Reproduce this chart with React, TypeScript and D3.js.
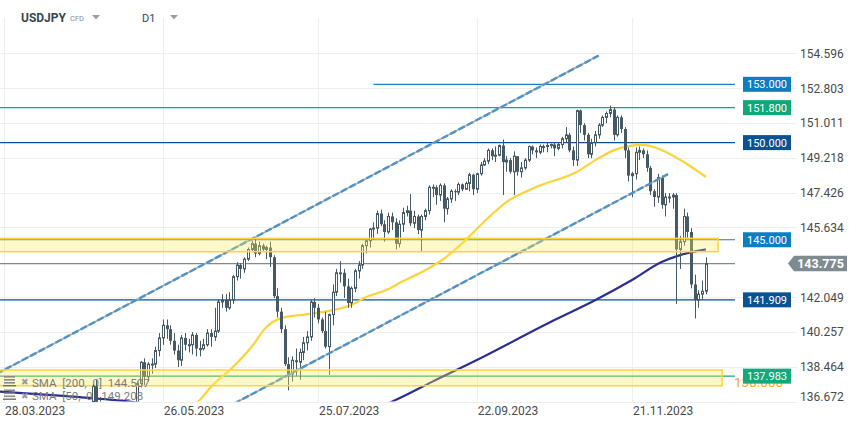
import * as d3 from 'd3';

const W = 859;
const H = 427;

const SYMBOL = 'USDJPY';
const SYMBOL_TYPE = 'CFD';
const TIMEFRAME = 'D1';

// x positions are counted in trading days since 28.03.2023
const FIRST_CANDLE_BAR = 23; // 28.04.2023

// daily candles [open, high, low, close], 28.04.2023 .. 19.12.2023
const CANDLES: [number, number, number, number][] = [
  [133.9, 136.56, 133.6, 136.3],
  [136.3, 137.55, 136.2, 137.45],
  [137.45, 137.77, 136.3, 136.5],
  [136.5, 136.9, 134.6, 134.7],
  [134.7, 134.9, 133.5, 134.25],
  [134.25, 135.1, 133.9, 134.8],
  [134.8, 135.3, 134.6, 135.1],
  [135.1, 135.5, 134.8, 135.2],
  [135.2, 135.45, 133.75, 134.35],
  [134.35, 134.9, 133.9, 134.55],
  [134.55, 135.8, 134.3, 135.7],
  [135.7, 136.3, 135.5, 136.1],
  [136.1, 136.7, 135.8, 136.4],
  [136.4, 137.7, 136.2, 137.6],
  [137.6, 138.75, 137.4, 138.7],
  [138.7, 138.9, 137.45, 137.95],
  [137.95, 138.7, 137.7, 138.6],
  [138.6, 138.9, 138.1, 138.6],
  [138.6, 139.5, 138.4, 139.3],
  [139.3, 140.2, 139.0, 139.95],
  [139.95, 140.9, 139.6, 140.6],
  [140.6, 140.9, 139.9, 140.4],
  [140.4, 140.6, 139.6, 139.8],
  [139.8, 140.2, 139.1, 139.3],
  [139.3, 139.6, 138.45, 138.8],
  [138.8, 140.1, 138.5, 139.95],
  [139.95, 140.2, 139.3, 139.6],
  [139.6, 139.9, 139.2, 139.6],
  [139.6, 140.25, 139.1, 140.1],
  [140.1, 140.2, 139.0, 139.4],
  [139.4, 139.8, 139.0, 139.4],
  [139.4, 139.9, 139.3, 139.6],
  [139.6, 140.4, 139.5, 140.2],
  [140.2, 140.4, 139.5, 140.0],
  [140.0, 141.5, 139.8, 140.3],
  [140.3, 141.95, 140.2, 141.8],
  [141.8, 142.2, 141.5, 141.9],
  [141.9, 142.2, 141.3, 141.5],
  [141.5, 142.3, 141.4, 141.9],
  [141.9, 143.2, 141.7, 143.1],
  [143.1, 143.85, 142.9, 143.7],
  [143.7, 143.8, 143.0, 143.5],
  [143.5, 144.1, 143.3, 144.0],
  [144.0, 144.6, 143.9, 144.5],
  [144.5, 144.95, 144.4, 144.8],
  [144.8, 145.07, 144.1, 144.3],
  [144.3, 144.9, 144.2, 144.7],
  [144.7, 144.8, 144.4, 144.5],
  [144.5, 144.7, 144.0, 144.6],
  [144.6, 144.9, 143.6, 144.1],
  [144.1, 144.2, 142.0, 142.1],
  [142.1, 142.5, 141.0, 141.3],
  [141.3, 141.5, 140.2, 140.4],
  [140.4, 140.6, 138.5, 138.6],
  [138.6, 138.95, 137.25, 138.1],
  [138.1, 139.0, 137.7, 138.8],
  [138.8, 139.4, 138.0, 138.7],
  [138.7, 139.4, 137.8, 139.2],
  [139.2, 140.0, 138.8, 139.7],
  [139.7, 140.3, 139.3, 140.0],
  [140.0, 141.95, 139.8, 141.8],
  [141.8, 142.0, 141.0, 141.5],
  [141.5, 141.7, 140.7, 140.9],
  [140.9, 141.0, 140.2, 140.3],
  [140.3, 141.3, 139.4, 139.5],
  [139.5, 141.2, 138.05, 141.15],
  [141.15, 142.7, 140.6, 142.3],
  [142.3, 143.5, 142.1, 143.3],
  [143.3, 143.9, 142.8, 143.3],
  [143.3, 143.5, 142.0, 142.6],
  [142.6, 143.0, 141.5, 141.75],
  [141.75, 142.6, 141.5, 142.5],
  [142.5, 143.5, 142.3, 143.4],
  [143.4, 143.9, 143.0, 143.7],
  [143.7, 144.8, 143.5, 144.7],
  [144.7, 145.0, 144.3, 144.95],
  [144.95, 145.6, 144.6, 145.55],
  [145.55, 145.9, 145.0, 145.6],
  [145.6, 146.5, 145.3, 146.35],
  [146.35, 146.55, 145.7, 145.8],
  [145.8, 146.0, 144.9, 145.4],
  [145.4, 146.4, 145.3, 146.2],
  [146.2, 146.4, 145.5, 145.9],
  [145.9, 146.1, 144.5, 144.8],
  [144.8, 146.0, 144.6, 145.8],
  [145.8, 146.65, 145.4, 146.4],
  [146.4, 146.75, 146.2, 146.5],
  [146.5, 147.35, 145.7, 145.85],
  [145.85, 146.5, 145.6, 146.2],
  [146.2, 146.3, 145.3, 145.5],
  [145.5, 146.3, 144.4, 146.2],
  [146.2, 146.6, 146.0, 146.5],
  [146.5, 147.8, 146.3, 147.7],
  [147.7, 147.85, 147.2, 147.7],
  [147.7, 147.8, 146.8, 147.3],
  [147.3, 147.9, 147.0, 147.8],
  [147.8, 147.9, 145.9, 146.6],
  [146.6, 147.2, 146.3, 147.1],
  [147.1, 147.6, 146.9, 147.5],
  [147.5, 147.6, 147.0, 147.45],
  [147.45, 147.95, 147.3, 147.85],
  [147.85, 147.9, 147.5, 147.6],
  [147.6, 148.0, 147.6, 147.9],
  [147.9, 148.45, 147.5, 148.35],
  [148.35, 148.4, 147.3, 147.6],
  [147.6, 148.45, 147.4, 148.4],
  [148.4, 149.0, 148.3, 148.85],
  [148.85, 149.2, 148.8, 149.05],
  [149.05, 149.7, 148.9, 149.6],
  [149.6, 149.7, 149.1, 149.3],
  [149.3, 149.8, 149.0, 149.35],
  [149.35, 149.9, 149.3, 149.85],
  [149.85, 150.16, 147.3, 149.0],
  [149.0, 149.3, 148.5, 149.1],
  [149.1, 149.2, 148.4, 148.5],
  [148.5, 149.55, 147.3, 149.3],
  [149.3, 149.3, 148.3, 148.5],
  [148.5, 149.0, 148.2, 148.7],
  [148.7, 149.2, 148.6, 149.1],
  [149.1, 149.85, 149.0, 149.8],
  [149.8, 149.85, 149.4, 149.6],
  [149.6, 149.75, 149.2, 149.5],
  [149.5, 149.9, 149.4, 149.8],
  [149.8, 149.9, 149.5, 149.8],
  [149.8, 150.0, 149.5, 149.85],
  [149.85, 149.95, 149.7, 149.9],
  [149.9, 150.0, 149.3, 149.7],
  [149.7, 150.0, 149.6, 149.9],
  [149.9, 150.3, 149.7, 150.2],
  [150.2, 150.8, 150.0, 150.4],
  [150.4, 150.5, 149.5, 149.6],
  [149.6, 149.8, 148.8, 149.1],
  [149.1, 151.7, 148.8, 151.65],
  [151.65, 151.7, 150.5, 150.9],
  [150.9, 151.0, 150.1, 150.4],
  [150.4, 150.5, 149.2, 149.4],
  [149.4, 150.2, 149.2, 150.0],
  [150.0, 150.6, 149.8, 150.4],
  [150.4, 151.0, 150.2, 150.9],
  [150.9, 151.4, 150.8, 151.3],
  [151.3, 151.6, 151.0, 151.5],
  [151.5, 151.9, 151.3, 151.7],
  [151.7, 151.8, 150.1, 150.4],
  [150.4, 151.4, 150.3, 151.3],
  [151.3, 151.4, 150.5, 150.7],
  [150.7, 150.8, 149.2, 149.6],
  [149.6, 149.75, 148.0, 148.3],
  [148.3, 148.5, 147.2, 148.4],
  [148.4, 149.75, 148.1, 149.5],
  [149.5, 149.8, 149.1, 149.6],
  [149.6, 149.7, 149.2, 149.4],
  [149.4, 149.6, 148.5, 148.7],
  [148.7, 148.8, 147.3, 147.5],
  [147.5, 147.6, 146.7, 147.2],
  [147.2, 148.4, 146.9, 148.2],
  [148.2, 148.3, 146.6, 146.8],
  [146.8, 147.4, 146.2, 147.2],
  [147.2, 147.4, 146.9, 147.2],
  [147.2, 147.4, 146.6, 147.3],
  [147.3, 147.4, 141.7, 144.5],
  [144.5, 145.2, 143.5, 144.9],
  [144.9, 146.6, 144.7, 146.2],
  [146.2, 146.4, 145.1, 145.4],
  [145.4, 145.6, 142.5, 142.7],
  [142.7, 143.2, 140.95, 141.9],
  [141.9, 142.4, 141.5, 142.2],
  [142.2, 142.9, 141.9, 142.35],
  [142.35, 144.1, 142.2, 143.775],
];

// SMA points: [bar, value]
const SMA50: [number, number][] = [
  [48, 135.9], [53, 136.75], [56, 137.42], [62, 138.45], [67, 139.48], [71, 140.5],
  [75, 140.97], [80, 141.12], [89, 141.38], [94, 141.64], [98, 142.05], [103, 142.38],
  [108, 142.86], [114, 143.43], [119, 144.01], [125, 144.99], [131, 146.12], [136, 146.94],
  [144, 147.71], [155, 148.49], [161, 149.2], [165, 149.6], [169, 149.82], [173, 149.88],
  [178, 149.62], [184, 149.0], [190, 148.23],
];
const SMA200: [number, number][] = [
  [-2, 137.2], [17, 136.95], [34, 136.67], [55, 136.0], [75, 135.6], [90, 135.7],
  [98, 136.15], [105, 136.67], [116, 137.7], [128, 138.81], [149, 140.87], [160, 141.89],
  [170, 142.93], [178, 143.85], [183, 144.21], [190, 144.507],
];
const SMA_LEGEND = ['SMA  [200,  0]  144.507', 'SMA  [50,  0]  149.208'];

// trend channel, [bar, price] endpoints
const CHANNEL_UPPER: [number, number][] = [[-2, 138.1], [161, 154.48]];
const CHANNEL_LOWER: [number, number][] = [[60, 136.34], [179.75, 148.38]];

// horizontal levels and the bar they start at
const LEVEL_PRICES = [153.0, 151.8, 150.0, 145.0, 141.909, 137.983];
const LEVEL_FROM = [100, -2, -2, -2, -2, -2];
const LAST_PRICE = 143.775;
const HIDDEN_MARKER = '138.000';

// yellow zones [top, bottom, last bar]
const ZONES: [number, number, number][] = [
  [145.075, 144.385, 193.3],
  [138.3, 137.49, 194.4],
];

const PRICE_TICKS = [154.596, 152.803, 151.011, 149.218, 147.426, 145.634, 142.049, 140.257, 138.464, 136.672];
const TIME_TICK_BARS = [0, 43, 85, 128, 170];
const TIME_TICK_LABELS = ['28.03.2023', '26.05.2023', '25.07.2023', '22.09.2023', '21.11.2023'];

const LEVEL_STYLE = [
  { line: '#1f80c2', box: '#0b7dc2' },
  { line: '#16a58a', box: '#0fa878' },
  { line: '#0f4f8c', box: '#0a5294' },
  { line: '#2079b9', box: '#0b7dc2' },
  { line: '#0f4f8c', box: '#0a5294' },
  { line: '#16a878', box: '#12aa7a' },
];

const CANDLE = '#455a64';
const FONT = 'Roboto, sans-serif';

export default function App() {
  const plotR = 735;
  const plotB = 401.6;

  const x = d3.scaleLinear().domain([0, 170]).range([4, 632]);
  const y = d3.scaleLinear().domain([136.672, 154.596]).range([plotB, 53.3]);

  const smaLine = d3.line<[number, number]>()
    .x(d => x(d[0]))
    .y(d => y(d[1]))
    .curve(d3.curveMonotoneX);

  const channelPath = (pts: [number, number][]) =>
    `M${x(pts[0][0])},${y(pts[0][1])} L${x(pts[1][0])},${y(pts[1][1])}`;

  const lastY = y(LAST_PRICE);

  return (
    <div style={{ position: 'absolute', left: 0, top: 0, width: W, height: H, background: '#fff' }}>
      <svg width={W} height={H} style={{ fontFamily: FONT, display: 'block' }}>
        <defs>
          <clipPath id="plot">
            <rect x={0} y={0} width={plotR} height={plotB} />
          </clipPath>
        </defs>
        <rect width={W} height={H} fill="#fff" />

        {/* grid */}
        {PRICE_TICKS.map(p => (
          <line key={p} x1={0} x2={797} y1={Math.round(y(p)) + 0.5} y2={Math.round(y(p)) + 0.5}
            stroke="#eeeeee" strokeWidth={1} />
        ))}
        {TIME_TICK_BARS.map(b => (
          <line key={b} x1={Math.round(x(b)) + 0.5} x2={Math.round(x(b)) + 0.5} y1={18} y2={plotB}
            stroke="#eeeeee" strokeWidth={1} />
        ))}

        <g clipPath="url(#plot)">
          {/* levels */}
          {LEVEL_PRICES.map((p, i) => (
            <line key={p} x1={Math.max(0, x(LEVEL_FROM[i]))} x2={plotR} y1={y(p)} y2={y(p)}
              stroke={LEVEL_STYLE[i].line} strokeWidth={1.2} />
          ))}
          <line x1={0} x2={plotR} y1={lastY} y2={lastY} stroke="#7d8b92" strokeWidth={1.2} />

          {/* moving averages */}
          <path d={smaLine(SMA200) ?? ''} fill="none" stroke="#2c2f8f" strokeWidth={2.2} />
          <path d={smaLine(SMA50) ?? ''} fill="none" stroke="#fcd33a" strokeWidth={2.2} />

          {/* candles */}
          {CANDLES.map(([o, h, l, c], i) => {
            const cx = Math.round(x(FIRST_CANDLE_BAR + i));
            const up = c >= o;
            const top = y(Math.max(o, c));
            const bot = y(Math.min(o, c));
            return (
              <g key={i}>
                <line x1={cx + 0.5} x2={cx + 0.5} y1={y(h)} y2={y(l)} stroke={CANDLE} strokeWidth={1} />
                {up ? (
                  <rect x={cx - 0.5} y={top} width={2} height={Math.max(bot - top, 1)}
                    fill="#fff" stroke={CANDLE} strokeWidth={1} />
                ) : (
                  <rect x={cx - 1} y={top} width={3} height={Math.max(bot - top, 1)} fill={CANDLE} />
                )}
              </g>
            );
          })}

          {/* channel */}
          {[CHANNEL_UPPER, CHANNEL_LOWER].map((pts, i) => (
            <g key={i}>
              <path d={channelPath(pts)} stroke="#a9a9a9" strokeWidth={1.6} fill="none" />
              <path d={channelPath(pts)} stroke="#4f93c8" strokeWidth={2.4} strokeDasharray="7 2.5" fill="none" />
            </g>
          ))}

          {/* zones */}
          {ZONES.map(([t, b, end], i) => (
            <rect key={i} x={-2} y={y(t)} width={x(end) + 2} height={y(b) - y(t)}
              fill="rgba(255,238,90,0.33)" stroke="#fbd53a" strokeWidth={1.5} />
          ))}
        </g>

        {/* legend */}
        {SMA_LEGEND.map((s, i) => (
          <g key={s} transform={`translate(0,${382 + i * 13.5})`}>
            <rect x={4} y={-6} width={11} height={1.6} fill="#8a8a8a" />
            <rect x={4} y={-3} width={11} height={1.6} fill="#8a8a8a" />
            <rect x={4} y={0} width={11} height={1.6} fill="#8a8a8a" />
            <rect x={3} y={3} width={13} height={1.4} fill="#6f6f6f" />
            <text x={20.5} y={3} fontSize={9} fill="#9a9a9a">✖</text>
            <text x={32} y={4.5} fontSize={11.5} fill="#7b7b7b" style={{ whiteSpace: 'pre' }}>{s}</text>
          </g>
        ))}

        {/* the two candles that overlap the legend are drawn over it */}
        {CANDLES.slice(1, 3).map(([o, h, l, c], k) => {
          const i = k + 1;
          const cx = Math.round(x(FIRST_CANDLE_BAR + i));
          const top = y(Math.max(o, c));
          const bot = Math.min(y(Math.min(o, c)), plotB);
          const up = c >= o;
          return (
            <g key={i}>
              <line x1={cx + 0.5} x2={cx + 0.5} y1={y(h)} y2={Math.min(y(l), plotB)} stroke={CANDLE} />
              {up ? (
                <rect x={cx - 0.5} y={top} width={2} height={bot - top} fill="#fff" stroke={CANDLE} />
              ) : (
                <rect x={cx - 1} y={top} width={3} height={bot - top} fill={CANDLE} />
              )}
            </g>
          );
        })}

        {/* price axis */}
        {PRICE_TICKS.map((p, i) => (
          <text key={p} x={800} y={y(p) + 4.5 - (i === PRICE_TICKS.length - 1 ? 5 : 0)}
            fontSize={12} fill="#4a4a4a">{p.toFixed(3)}</text>
        ))}

        {/* orange marker text mostly hidden behind the level label */}
        <text x={734} y={387} fontSize={13.5} fill="#f6a531">{HIDDEN_MARKER}</text>

        {/* level labels */}
        {LEVEL_PRICES.map((p, i) => (
          <g key={p} transform={`translate(743,${y(p)})`}>
            <rect x={0} y={-7.5} width={48} height={15} fill={LEVEL_STYLE[i].box} />
            <text x={24} y={4} fontSize={11} fill="#fff" textAnchor="middle">{p.toFixed(3)}</text>
          </g>
        ))}
        <g transform={`translate(0,${lastY})`}>
          <path d="M788,0 L794,-7.8 L847,-7.8 L847,7.8 L794,7.8 Z" fill="#808b91" />
          <text x={820.5} y={4.5} fontSize={12.5} fontWeight={700} fill="#fff" textAnchor="middle">
            {LAST_PRICE.toFixed(3)}
          </text>
        </g>

        {/* time axis */}
        {TIME_TICK_BARS.map((b, i) => (
          <text key={b} x={x(b) + 1} y={414.5} fontSize={12} fill="#4a4a4a">{TIME_TICK_LABELS[i]}</text>
        ))}

        {/* header */}
        <text x={21} y={21.5} fontSize={12} fontWeight={700} fill="#37474f">{SYMBOL}</text>
        <text x={70} y={21} fontSize={7.5} fill="#8a8a8a">{SYMBOL_TYPE}</text>
        <path d="M92,15 L100,15 L96,19.5 Z" fill="#9e9e9e" />
        <text x={142} y={22} fontSize={11} fill="#37474f">{TIMEFRAME}</text>
        <path d="M170,15 L178,15 L174,19.5 Z" fill="#9e9e9e" />
      </svg>
    </div>
  );
}
